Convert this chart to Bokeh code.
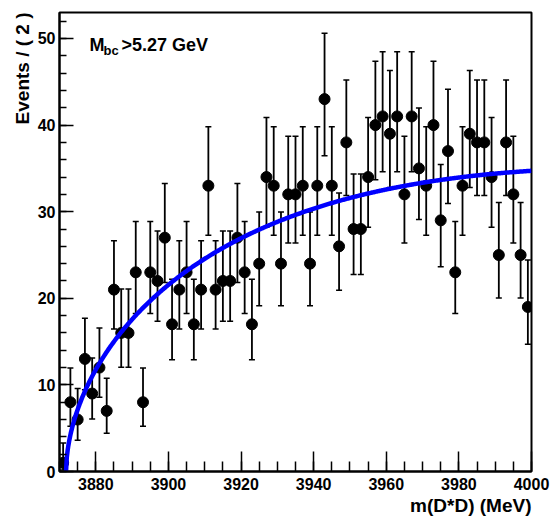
import math
import numpy as np
from bokeh.plotting import figure
from bokeh.models import Range1d, SingleIntervalTicker, Label, ColumnDataSource, Title
from bokeh.embed import file_html
from bokeh.resources import INLINE

# ---------------- data ----------------
x_low, x_high = 3870.0, 4000.0
bin_width = 2.0
counts = [1, 8, 6, 13, 9, 12, 7, 21, 16, 16,
          23, 8, 23, 22, 27, 17, 21, 23, 17, 21,
          33, 21, 22, 22, 27, 23, 17, 24, 34, 33,
          24, 32, 32, 33, 24, 33, 43, 33, 26, 38,
          28, 28, 34, 40, 41, 39, 41, 32, 41, 35,
          33, 40, 29, 37, 23, 33, 39, 38, 38, 34,
          25, 38, 32, 25, 19]
bin_centers = [x_low + bin_width * (i + 0.5) for i in range(len(counts))]

# fitted threshold function  a * dx^p * exp(-c*dx)
fit_threshold = 3871.8
fit_amp = 3.83
fit_power = 0.547
fit_slope = 0.003514

y_low, y_high = 0.0, 53.0
x_tick_interval, x_minor = 20, 4
y_tick_interval, y_minor = 10, 5

annotation = ("M", "bc", ">5.27 GeV")
x_title = "m(D*D) (MeV)"
y_title = "Events / ( 2 )"

# ---------------- Poisson (Garwood) intervals ----------------
def pois_cdf(k, mu):
    s, term = 0.0, math.exp(-mu)
    for i in range(k + 1):
        if i > 0:
            term *= mu / i
        s += term
    return s

def solve(f, target, lo, hi):
    for _ in range(80):
        mid = 0.5 * (lo + hi)
        if f(mid) > target:
            lo = mid
        else:
            hi = mid
    return 0.5 * (lo + hi)

q = 0.158655
err_lo, err_hi = [], []
for n in counts:
    lo = 0.0 if n == 0 else solve(lambda m: pois_cdf(n - 1, m), 1 - q, 0.0, n + 50.0)
    hi = solve(lambda m: pois_cdf(n, m), q, 0.0, n + 80.0)
    err_lo.append(lo)
    err_hi.append(hi)

src = ColumnDataSource(dict(x=bin_centers, y=counts, lo=err_lo, hi=err_hi))

# ---------------- figure ----------------
FONT = "Liberation Sans"
p = figure(width=550, height=516,
           x_range=Range1d(x_low, x_high), y_range=Range1d(y_low, y_high),
           output_backend="svg", toolbar_location=None,
           min_border_left=59, min_border_right=19,
           min_border_top=12, min_border_bottom=44)
p.grid.visible = False
p.outline_line_color = "black"
p.outline_line_width = 2
p.background_fill_color = "white"
p.border_fill_color = "white"

for ax, interval, nminor, tin, tmin in ((p.xaxis[0], x_tick_interval, x_minor, 20, 10),
                                        (p.yaxis[0], y_tick_interval, y_minor, 14, 7)):
    ax.ticker = SingleIntervalTicker(interval=interval, num_minor_ticks=nminor)
    ax.major_tick_in = tin
    ax.major_tick_out = 0
    ax.minor_tick_in = tmin
    ax.minor_tick_out = 0
    ax.axis_line_width = 2
    ax.major_tick_line_width = 1.5
    ax.minor_tick_line_width = 1.5
    ax.major_label_text_font = FONT
    ax.major_label_text_font_style = "bold"
    ax.major_label_text_font_size = "16px"
    ax.major_label_text_color = "black"
p.xaxis.major_label_standoff = 6
p.yaxis.major_label_standoff = 4

# axis titles (ROOT style, right aligned at the axis end)
p.add_layout(Title(text=x_title, align="right", text_font=FONT, text_font_style="bold",
                   text_font_size="19px", text_color="black", standoff=1), "below")
p.add_layout(Title(text=y_title, align="right", text_font=FONT, text_font_style="bold",
                   text_font_size="19px", text_color="black", standoff=4), "left")

# error bars
p.segment(x0="x", y0="lo", x1="x", y1="hi", source=src, line_color="black", line_width=1.8)
p.scatter(x="x", y="lo", source=src, marker="dash", size=6, line_color="black", line_width=1.5)
p.scatter(x="x", y="hi", source=src, marker="dash", size=6, line_color="black", line_width=1.5)
# points
p.scatter(x="x", y="y", source=src, marker="circle", size=11,
          fill_color="black", line_color="black")

# fit curve
xf = np.linspace(fit_threshold, x_high, 600)
dx = xf - fit_threshold
yf = fit_amp * np.power(dx, fit_power) * np.exp(-fit_slope * dx)
p.line(xf, yf, line_color="#0000ff", line_width=4.5)

# annotation text M_bc>5.27 GeV
p.add_layout(Label(x=30, y=427, x_units="screen", y_units="screen", text=annotation[0],
                   text_font=FONT, text_font_style="bold", text_font_size="18px",
                   text_color="black", text_baseline="alphabetic"))
p.add_layout(Label(x=44, y=421, x_units="screen", y_units="screen", text=annotation[1],
                   text_font=FONT, text_font_style="bold", text_font_size="13px",
                   text_color="black", text_baseline="alphabetic"))
p.add_layout(Label(x=62, y=427, x_units="screen", y_units="screen", text=annotation[2],
                   text_font=FONT, text_font_style="bold", text_font_size="18px",
                   text_color="black", text_baseline="alphabetic"))

open("out.html", "w").write(file_html(p, INLINE))
